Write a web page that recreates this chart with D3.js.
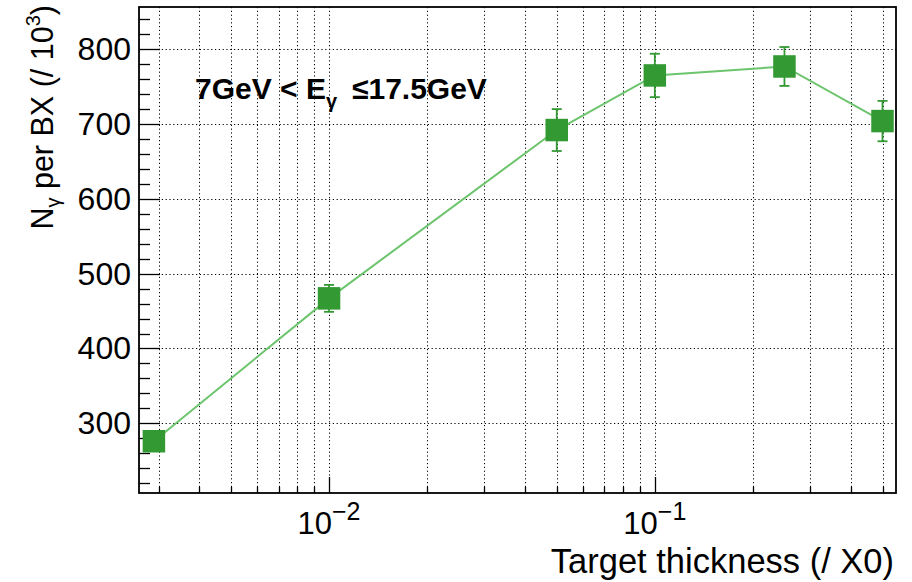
<!DOCTYPE html>
<html>
<head>
<meta charset="utf-8">
<script src="https://cdn.jsdelivr.net/npm/d3@7"></script>
<style>
  html, body { margin: 0; padding: 0; background: #fff; }
  svg { display: block; font-family: "Liberation Sans", Arial, Helvetica, sans-serif; }
</style>
</head>
<body>
<script>
// Photon yield versus target thickness
const thickness = [0.0029, 0.01, 0.05, 0.1, 0.25, 0.5];   // X0
const nGamma    = [276, 467, 692, 765, 777, 704];          // per BX / 10^3
const nGammaErr = [11, 18, 28, 29, 26, 27];

const yTickValues = [300, 400, 500, 600, 700, 800];
const xTickValues = [0.01, 0.1];
const xTickExponents = ["\u22122", "\u22121"];

const W = 912, H = 582;
const frame = { left: 139, right: 896, top: 7, bottom: 493 };

const svg = d3.select("body").append("svg")
  .attr("width", W).attr("height", H);

const x = d3.scaleLog().domain([0.00261, 0.55]).range([frame.left, frame.right]);
const y = d3.scaleLinear().domain([206.8, 856.5]).range([frame.bottom, frame.top]);

const markColor = "#339933";
const lineColor = "#6cc46c";

// grid
const grid = svg.append("g").attr("stroke", "#000").attr("stroke-width", 1)
  .attr("stroke-dasharray", "1.2,2.6").attr("fill", "none");
const xGridTicks = x.ticks();
grid.selectAll("line.gx").data(xGridTicks).join("line").attr("class", "gx")
  .attr("x1", d => Math.round(x(d)) + 0.5).attr("x2", d => Math.round(x(d)) + 0.5)
  .attr("y1", frame.top).attr("y2", frame.bottom);
grid.selectAll("line.gy").data(yTickValues).join("line").attr("class", "gy")
  .attr("x1", frame.left).attr("x2", frame.right)
  .attr("y1", d => Math.round(y(d)) + 0.5).attr("y2", d => Math.round(y(d)) + 0.5);

// y axis ticks (inward)
const yMinor = d3.range(220, 860, 20);
const ticks = svg.append("g").attr("stroke", "#000").attr("stroke-width", 1.3);
ticks.selectAll("line.ty").data(yMinor).join("line").attr("class", "ty")
  .attr("x1", frame.left).attr("x2", d => frame.left + (d % 100 === 0 ? 21 : 11))
  .attr("y1", d => Math.round(y(d)) + 0.5).attr("y2", d => Math.round(y(d)) + 0.5);

// x axis ticks (inward)
ticks.selectAll("line.tx").data(xGridTicks).join("line").attr("class", "tx")
  .attr("x1", d => Math.round(x(d)) + 0.5).attr("x2", d => Math.round(x(d)) + 0.5)
  .attr("y1", frame.bottom)
  .attr("y2", d => frame.bottom - (xTickValues.some(v => Math.abs(v - d) < 1e-9) ? 16 : 6));

// frame
svg.append("rect")
  .attr("x", frame.left).attr("y", frame.top)
  .attr("width", frame.right - frame.left).attr("height", frame.bottom - frame.top)
  .attr("fill", "none").attr("stroke", "#000").attr("stroke-width", 1.8);

// y tick labels
svg.append("g").selectAll("text").data(yTickValues).join("text")
  .attr("x", frame.left - 8).attr("y", d => y(d) + 11)
  .attr("text-anchor", "end").attr("font-size", 32).attr("fill", "#000")
  .text(d => d);

// x tick labels 10^n
const xl = svg.append("g").selectAll("text").data(xTickValues).join("text")
  .attr("x", d => x(d)).attr("y", 534)
  .attr("text-anchor", "middle").attr("font-size", 31).attr("fill", "#000");
xl.append("tspan").text("10");
xl.append("tspan").attr("dy", -14).attr("font-size", 25).text((d, i) => xTickExponents[i]);

// axis titles
svg.append("text")
  .attr("x", frame.right - 2).attr("y", 573)
  .attr("text-anchor", "end").attr("font-size", 34.5).attr("fill", "#000")
  .text("Target thickness (/ X0)");

const yt = svg.append("text")
  .attr("transform", "translate(53,5) rotate(-90)")
  .attr("text-anchor", "end").attr("font-size", 30.5).attr("fill", "#000");
yt.append("tspan").text("N");
yt.append("tspan").attr("dy", 7).attr("font-size", 20).text("\u03b3");
yt.append("tspan").attr("dy", -7).text(" per BX (/ 10");
yt.append("tspan").attr("dy", -13).attr("font-size", 20).text("3");
yt.append("tspan").attr("dy", 13).text(")");

// energy range label
const lab = svg.append("text")
  .attr("x", 195).attr("y", 99)
  .attr("font-size", 30).attr("font-weight", "bold").attr("fill", "#000");
lab.append("tspan").text("7GeV < E");
lab.append("tspan").attr("dy", 9).attr("font-size", 20).text("\u03b3");
lab.append("tspan").attr("x", 352).attr("dy", -9).text("\u226417.5GeV");

// connecting line
const pts = thickness.map((t, i) => [t, nGamma[i], nGammaErr[i]]);
svg.append("path")
  .attr("d", d3.line().x(d => x(d[0])).y(d => y(d[1]))(pts))
  .attr("fill", "none").attr("stroke", lineColor).attr("stroke-width", 2);

// error bars
const eb = svg.append("g").attr("stroke", markColor).attr("stroke-width", 1.8);
eb.selectAll("line.e").data(pts).join("line").attr("class", "e")
  .attr("x1", d => x(d[0])).attr("x2", d => x(d[0]))
  .attr("y1", d => y(d[1] - d[2])).attr("y2", d => y(d[1] + d[2]));
eb.selectAll("line.ct").data(pts).join("line").attr("class", "ct")
  .attr("x1", d => x(d[0]) - 5).attr("x2", d => x(d[0]) + 5)
  .attr("y1", d => y(d[1] + d[2])).attr("y2", d => y(d[1] + d[2]));
eb.selectAll("line.cb").data(pts).join("line").attr("class", "cb")
  .attr("x1", d => x(d[0]) - 5).attr("x2", d => x(d[0]) + 5)
  .attr("y1", d => y(d[1] - d[2])).attr("y2", d => y(d[1] - d[2]));

// square markers
const S = 22.5;
svg.append("g").selectAll("rect").data(pts).join("rect")
  .attr("x", d => x(d[0]) - S / 2).attr("y", d => y(d[1]) - S / 2)
  .attr("width", S).attr("height", S)
  .attr("fill", markColor);
</script>
</body>
</html>
